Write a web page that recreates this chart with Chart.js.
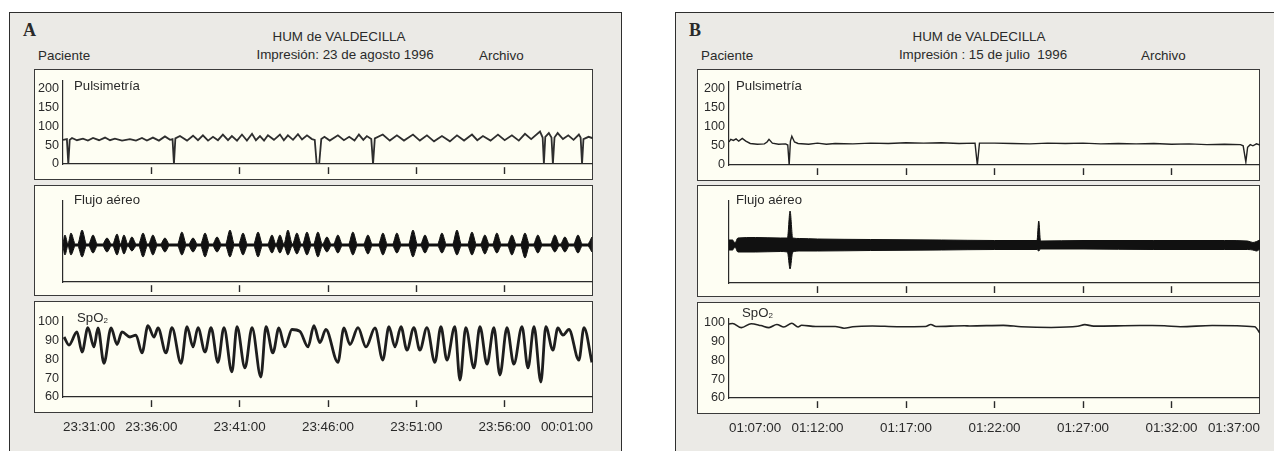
<!DOCTYPE html>
<html>
<head>
<meta charset="utf-8">
<script src="https://cdn.jsdelivr.net/npm/chart.js@4.4.0/dist/chart.umd.min.js"></script>
<style>
body{margin:0;width:1274px;height:451px;background:#fff;overflow:hidden;position:relative;font-family:"Liberation Sans",Arial,sans-serif;color:#2a2a2a}
.panel{position:absolute;top:12px;height:460px;background:#ebeae6;border:1.5px solid #2e2e2e;box-sizing:border-box}
.box{position:absolute;background:#fefef3;border:1.5px solid #3a3a3a;box-sizing:border-box}
.t{position:absolute;font-size:13.4px;line-height:1;white-space:pre}
.c{transform:translateX(-50%)}
.lab{position:absolute;font-size:13.2px;line-height:1;white-space:pre}
.lab sub{font-size:8px;vertical-align:-1px}
.letter{position:absolute;font-family:"Liberation Serif","DejaVu Serif",serif;font-weight:bold;font-size:18px;line-height:1}
canvas{position:absolute}
</style>
</head>
<body>
<div class="panel" style="left:9px;width:613px"></div>
<div class="panel" style="left:675px;width:640px"></div>

<div class="letter" style="left:23px;top:21px">A</div>
<div class="t c" style="left:339px;top:30px">HUM de VALDECILLA</div>
<div class="t c" style="left:345px;top:48px">Impresión: 23 de agosto 1996</div>
<div class="t" style="left:38px;top:49px">Paciente</div>
<div class="t" style="left:479px;top:49px">Archivo</div>

<div class="letter" style="left:689px;top:21px">B</div>
<div class="t c" style="left:979px;top:30px">HUM de VALDECILLA</div>
<div class="t c" style="left:983px;top:48px">Impresión : 15 de julio  1996</div>
<div class="t" style="left:701px;top:49px">Paciente</div>
<div class="t" style="left:1141px;top:49px">Archivo</div>

<div class="box" style="left:34px;top:69px;width:559px;height:111px"></div>
<div class="box" style="left:34px;top:185px;width:559px;height:111px"></div>
<div class="box" style="left:34px;top:301px;width:559px;height:112px"></div>
<div class="box" style="left:697px;top:69px;width:563px;height:112px"></div>
<div class="box" style="left:697px;top:185px;width:563px;height:112px"></div>
<div class="box" style="left:697px;top:302px;width:563px;height:112px"></div>

<div id="charts"></div>

<div class="lab" style="left:74px;top:79px">Pulsimetría</div>
<div class="lab" style="left:74px;top:193px">Flujo aéreo</div>
<div class="lab" style="left:77px;top:311px">SpO<sub>2</sub></div>
<div class="lab" style="left:736px;top:79px">Pulsimetría</div>
<div class="lab" style="left:736px;top:193px">Flujo aéreo</div>
<div class="lab" style="left:742px;top:306px">SpO<sub>2</sub></div>

<script>
// time axis in minutes from start of each record
var tickMinutes = [0, 5, 10, 15, 20, 25, 30];
var timeLabelsA = ['23:31:00', '23:36:00', '23:41:00', '23:46:00', '23:51:00', '23:56:00', '00:01:00'];
var timeLabelsB = ['01:07:00', '01:12:00', '01:17:00', '01:22:00', '01:27:00', '01:32:00', '01:37:00'];
var pulseTicks = [0, 50, 100, 150, 200];
var spo2Ticks = [60, 70, 80, 90, 100];

// A - pulsimetria
var pulseA_t = [0, 0.22, 0.30, 0.38, 0.51, 0.79, 1.13, 1.41, 1.70, 2.04, 2.38, 2.66, 2.94, 3.34, 3.79, 4.13, 4.47, 4.75, 5.09, 5.43, 5.77, 6.06,
  6.2, 6.28, 6.36, 6.62, 7.02, 7.36, 7.64, 7.92, 8.21, 8.49, 8.77, 9.05, 9.34, 9.56, 9.85, 10.13, 10.41, 10.7, 10.92, 11.15, 11.38, 11.6, 11.94,
  12.28, 12.5, 12.73, 13.02, 13.3, 13.53, 13.81, 14.09, 14.25, 14.36, 14.5, 14.62, 14.8, 15.1, 15.56, 15.9, 16.2, 16.5, 16.75, 17.0, 17.2,
  17.45, 17.55, 17.65, 18.1, 18.5, 18.9, 19.3, 19.81, 20.2, 20.6, 21.0, 21.45, 21.9, 22.3, 22.7, 23.15, 23.45, 23.77, 24.2, 24.62, 25.0,
  25.41, 25.8, 26.15, 26.5, 27.0, 27.15, 27.22, 27.3, 27.5, 27.65, 27.73, 27.82, 28.0, 28.3, 28.6, 28.9, 29.2, 29.3, 29.38, 29.46, 29.75, 30];
var pulseA_v = [64, 66, 0, 64, 69, 63, 67, 62, 69, 63, 70, 63, 67, 62, 66, 62, 69, 62, 70, 62, 73, 64,
  66, 0, 68, 74, 62, 75, 63, 76, 62, 72, 63, 78, 63, 74, 62, 78, 62, 80, 63, 74, 62, 76, 64,
  78, 63, 76, 64, 79, 65, 76, 66, 64, 0, 0, 66, 72, 62, 76, 63, 72, 62, 78, 64, 74,
  66, 0, 68, 78, 62, 76, 62, 78, 62, 76, 60, 74, 60, 76, 62, 78, 63, 74, 62, 78, 63,
  76, 62, 80, 66, 86, 70, 0, 72, 82, 70, 0, 70, 82, 66, 76, 64, 78, 70, 0, 66, 72, 68];

// A - flujo aereo: breath bursts (time, upper and lower excursion)
var flowA_t = [0.11, 0.45, 1.08, 1.70, 2.49, 3.06, 3.45, 3.90, 4.53, 5.09, 5.77, 6.73, 7.36, 8.04, 8.72, 9.45, 10.19, 11.04, 11.83, 12.28,
  12.73, 13.24, 13.81, 14.43, 14.94, 15.56, 16.41, 17.26, 18.11, 18.90, 19.81, 20.49, 21.45, 22.30, 23.15, 23.88, 24.56, 25.41, 26.15,
  26.88, 27.84, 28.41, 29.15, 29.94];
var flowA_up = [10, 12, 15, 10, 7, 11, 10, 8, 12, 10, 7, 13, 7, 12, 8, 15, 12, 13, 10, 10,
  15, 12, 13, 13, 8, 10, 13, 10, 12, 12, 15, 10, 12, 15, 13, 10, 12, 10, 12,
  10, 10, 8, 10, 8];
var flowA_down = [10, 10, 12, 8, 7, 10, 9, 6, 12, 10, 7, 10, 7, 12, 7, 12, 10, 12, 8, 8,
  10, 9, 10, 12, 7, 8, 10, 9, 10, 8, 12, 8, 8, 10, 10, 9, 8, 10, 13,
  8, 7, 7, 8, 7];

// A - SpO2
var spo2A_t = [0.06, 0.34, 0.79, 1.08, 1.41, 1.75, 1.98, 2.32, 2.72, 3.06, 3.34, 3.79, 4.13, 4.47, 4.81, 5.15, 5.38, 5.83, 6.17, 6.68,
  7.02, 7.36, 7.64, 8.04, 8.38, 8.77, 9.11, 9.56, 9.85, 10.3, 10.7, 11.2, 11.49, 11.88, 12.22, 12.56, 12.96, 13.41, 13.87, 14.2,
  14.54, 14.88, 15.56, 15.9, 16.24, 16.7, 17.15, 17.66, 18.1, 18.45, 18.79, 19.13, 19.47, 19.86, 20.2, 20.6, 21.05, 21.39, 21.73, 22.18,
  22.47, 22.8, 23.26, 23.6, 24.0, 24.39, 24.73, 25.13, 25.52, 25.98, 26.32, 26.66, 27.05, 27.33, 27.73, 28.01, 28.3, 28.64, 29.2, 29.49, 29.94];
var spo2A_v = [92, 87.7, 94.7, 84, 97, 86.7, 96.8, 78, 96.8, 88, 94.7, 92, 93, 83.5, 98, 92, 96.8, 83.5, 97, 78,
  97.5, 86.7, 97, 84, 97, 78.5, 97, 73.4, 97.5, 75.5, 97, 70.6, 97.5, 83.5, 96.8, 86.7, 96, 95, 86.7, 98,
  89, 96, 78.5, 96.8, 88, 97, 86.7, 96.8, 79.7, 97.5, 86.7, 97.5, 85, 97, 85, 97, 78.5, 97.5, 79.7, 97.5,
  69, 97, 75.5, 97.5, 77.5, 97, 71.7, 97, 77.5, 97.5, 75.5, 97.5, 68, 97.5, 85, 96.8, 93, 96, 79.7, 97, 78.5];

// B - pulsimetria
var pulseB_t = [0, 0.1, 0.25, 0.4, 0.55, 0.75, 0.95, 1.2, 1.6, 2.0, 2.15, 2.26, 2.45, 2.8, 3.2, 3.32, 3.4, 3.47, 3.55, 3.7, 3.9,
  4.5, 5.0, 5.5, 6, 7, 8, 9, 10, 11, 12, 13, 13.9, 14.03, 14.15, 15, 16, 17, 18, 19, 20, 21, 22, 23, 24, 25, 26, 27, 28,
  28.9, 29.05, 29.2, 29.3, 29.45, 29.6, 29.8, 30];
var pulseB_v = [60, 67, 64, 68, 62, 69, 62, 56, 54, 55, 60, 67, 57, 54, 55, 52, 0, 62, 75, 60, 56,
  54, 57, 54, 56, 55, 57, 56, 58, 57, 58, 56, 57, 0, 57, 57, 56, 55, 57, 56, 57, 55, 56, 55, 56, 54, 55, 53, 54,
  53, 50, 8, 46, 53, 50, 55, 52];

// B - flujo aereo: envelope of the trace
var flowB_t = [0, 0.2, 0.34, 0.5, 1.5, 2.9, 3.3, 3.45, 3.6, 4.0, 5.0, 8.0, 12.0, 15.0, 17.4, 17.5, 17.6, 20.0, 24.0, 28.0, 29.3, 29.6, 29.8, 30];
var flowB_hi = [5, 5, 2, 7, 7.5, 7, 7, 34, 7, 6.5, 6, 5.5, 5, 4.5, 4.5, 24, 4, 4.5, 4.5, 4.5, 4, 2.5, 3.5, 5];
var flowB_lo = [-5, -5, -2, -7, -7, -6.5, -7, -24, -7, -6, -6, -5.5, -5, -4.5, -4.5, -6, -4, -4, -4.5, -4.5, -4.5, -5, -6, -4];

// B - SpO2
var spo2B_t = [0, 0.2, 0.7, 1.25, 1.8, 2.26, 2.7, 3.1, 3.55, 3.9, 4.1, 4.9, 6.0, 6.5, 7.0, 8.1, 9.5, 11.1, 11.4, 11.7, 13.3, 13.6,
  15.5, 16.5, 18.2, 19.7, 20.1, 20.6, 23.2, 23.9, 24.6, 25.5, 27.3, 29.7, 30];
var spo2B_v = [99.4, 99.7, 97.5, 99.6, 98.6, 97.5, 99.2, 97.8, 99.8, 97.8, 98.8, 98.1, 98.1, 97.2, 98.0, 98.4, 98.0, 98.1, 99.2, 98.1, 98.5, 98.4,
  98.7, 98.0, 97.6, 98.2, 99.1, 98.3, 98.6, 98.6, 98.5, 98.0, 98.6, 98.0, 94.5];

var INK = '#2a2a2a';
var FONT = 'Liberation Sans';
var BURST_HALF = 0.25;   // half length of one breath burst, minutes
var FLOW_BASE = 1;        // thickness of the quiet trace

function points(ts, vs){
	return ts.map(function(t, i){ return {x: t, y: vs[i]}; });
}

function burstPoints(ts, amps, sign){
	var pts = [{x: 0, y: sign * FLOW_BASE}];
	for(var i = 0; i < ts.length; i++){
		var t = ts[i];
		var left = t - BURST_HALF;
		var right = t + BURST_HALF;
		if(i > 0) left = Math.max(left, (ts[i-1] + t) / 2);
		if(i < ts.length - 1) right = Math.min(right, (ts[i+1] + t) / 2);
		if(left > pts[pts.length-1].x) pts.push({x: left, y: sign * FLOW_BASE});
		pts.push({x: t, y: sign * amps[i]});
		pts.push({x: right, y: sign * FLOW_BASE});
	}
	if(pts[pts.length-1].x < 30) pts.push({x: 30, y: sign * FLOW_BASE});
	return pts.filter(function(p){ return p.x >= 0 && p.x <= 30; });
}

function makeChart(pos, datasets, y, timeLabels){
	var cv = document.createElement('canvas');
	cv.width = pos.w;
	cv.height = pos.h;
	cv.style.left = pos.left + 'px';
	cv.style.top = pos.top + 'px';
	document.getElementById('charts').appendChild(cv);
	var last = tickMinutes.length - 1;
	return new Chart(cv.getContext('2d'), {
		type: 'line',
		data: {datasets: datasets},
		options: {
			responsive: false,
			animation: false,
			layout: {padding: {top: pos.padTop, left: 0, right: 0, bottom: 0}},
			plugins: {legend: {display: false}, tooltip: {enabled: false}},
			elements: {point: {radius: 0}},
			scales: {
				x: {
					type: 'linear', min: 0, max: 30,
					afterBuildTicks: function(s){ s.ticks = tickMinutes.map(function(v){ return {value: v}; }); },
					afterFit: function(s){ s.height = pos.xH; s.paddingLeft = 0; s.paddingRight = 0; },
					grid: {
						drawOnChartArea: false, drawTicks: true, tickLength: 10, tickWidth: 1.4,
						tickColor: function(c){ return (c.index === 0 || c.index === last) ? 'rgba(0,0,0,0)' : INK; },
						tickBorderDash: [7, 3], tickBorderDashOffset: 7
					},
					border: {display: true, color: INK, width: 1.2},
					ticks: {
						display: !!timeLabels, align: 'inner', autoSkip: false, maxRotation: 0, padding: 12,
						color: INK, font: {family: FONT, size: 13.4},
						callback: function(v, i){ return timeLabels ? timeLabels[i] : ''; }
					}
				},
				y: {
					min: y.min, max: y.max,
					afterBuildTicks: function(s){ if(y.ticks) s.ticks = y.ticks.map(function(v){ return {value: v}; }); },
					afterFit: function(s){ s.width = pos.yW; },
					grid: {display: false, drawTicks: false},
					border: {display: true, color: INK, width: 1.2},
					ticks: {display: !!y.ticks, padding: 4, color: INK, font: {family: FONT, size: 12.6}}
				}
			}
		}
	});
}

function lineSet(data, width, color){
	return {data: data, borderColor: color, borderWidth: width, fill: false, tension: 0, pointRadius: 0};
}

function flowSets(upper, lower){
	return [
		{data: upper, borderColor: '#111', borderWidth: 1, fill: false, cubicInterpolationMode: 'monotone', pointRadius: 0},
		{data: lower, borderColor: '#111', borderWidth: 1, fill: '-1', backgroundColor: '#111', cubicInterpolationMode: 'monotone', pointRadius: 0}
	];
}

// panel A
makeChart({left: 34, top: 69, w: 559, h: 111, padTop: 11, xH: 16, yW: 29},
	[lineSet(points(pulseA_t, pulseA_v), 1.8, '#2e2e2e')], {min: 0, max: 221, ticks: pulseTicks}, null);
makeChart({left: 34, top: 185, w: 559, h: 111, padTop: 16, xH: 14, yW: 29},
	flowSets(burstPoints(flowA_t, flowA_up, 1), burstPoints(flowA_t, flowA_down, -1)), {min: -37, max: 44}, null);
var spoA = lineSet(points(spo2A_t, spo2A_v), 2.8, '#1e1e1e');
spoA.cubicInterpolationMode = 'monotone';
makeChart({left: 34, top: 301, w: 559, h: 140, padTop: 16, xH: 44, yW: 29},
	[spoA], {min: 60, max: 102.67, ticks: spo2Ticks}, timeLabelsA);

// panel B
makeChart({left: 697, top: 69, w: 563, h: 112, padTop: 13, xH: 16, yW: 32},
	[lineSet(points(pulseB_t, pulseB_v), 1.4, '#222')], {min: 0, max: 216, ticks: pulseTicks}, null);
makeChart({left: 697, top: 185, w: 563, h: 112, padTop: 16, xH: 14, yW: 32},
	flowSets(points(flowB_t, flowB_hi), points(flowB_t, flowB_lo)), {min: -38, max: 44}, null);
var spoB = lineSet(points(spo2B_t, spo2B_v), 1.6, '#222');
spoB.cubicInterpolationMode = 'monotone';
makeChart({left: 697, top: 302, w: 563, h: 140, padTop: 17, xH: 44, yW: 32},
	[spoB], {min: 60, max: 102.1, ticks: spo2Ticks}, timeLabelsB);
</script>
</body>
</html>
